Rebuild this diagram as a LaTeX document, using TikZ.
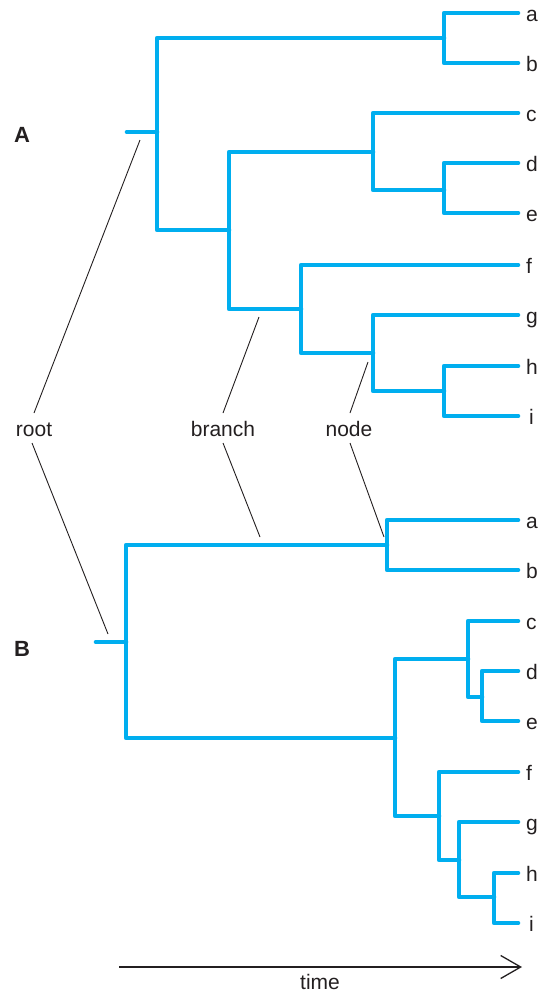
\documentclass[tikz,border=0pt]{standalone}
\usepackage{fontspec}
\setmainfont{Liberation Sans}
\usetikzlibrary{arrows.meta}
\definecolor{treeblue}{HTML}{00AEEF}
\definecolor{ink}{HTML}{231F20}
\tikzset{
  tree/.style={draw=treeblue, line width=4.6pt, line cap=round, line join=round},
  leader/.style={draw=ink, line width=0.9pt},
  leaf/.style={anchor=base west, inner sep=0pt, text=ink, font=\fontsize{21}{21}\selectfont},
  term/.style={anchor=base, inner sep=0pt, text=ink, font=\fontsize{21}{21}\selectfont},
  panel/.style={anchor=base, inner sep=0pt, text=ink, font=\fontsize{22}{22}\selectfont\bfseries}
}
\begin{document}
\begin{tikzpicture}[x=1pt,y=-1pt]
\useasboundingbox (0,0) rectangle (555,993);
% ---------- Tree A ----------
\draw[tree] (127,132) -- (157,132);
\draw[tree] (444,38) -- (157,38) -- (157,230) -- (229,230);
\draw[tree] (518,13) -- (444,13) -- (444,63) -- (518,63);
\draw[tree] (373,152) -- (229,152) -- (229,309) -- (301,309);
\draw[tree] (518,113) -- (373,113) -- (373,190) -- (444,190);
\draw[tree] (518,163) -- (444,163) -- (444,213) -- (518,213);
\draw[tree] (518,265) -- (301,265) -- (301,353) -- (373,353);
\draw[tree] (518,315) -- (373,315) -- (373,391) -- (444,391);
\draw[tree] (518,366) -- (444,366) -- (444,416) -- (518,416);
\node[leaf] (Aa) at (526,21) {a};
\node[leaf] (Ab) at (526,71) {b};
\node[leaf] (Ac) at (526,121) {c};
\node[leaf] (Ad) at (526,171) {d};
\node[leaf] (Ae) at (526,221) {e};
\node[leaf] (Af) at (526,273) {f};
\node[leaf] (Ag) at (526,323) {g};
\node[leaf] (Ah) at (526,374) {h};
\node[leaf] (Ai) at (529,424) {i};
\node[panel] (A) at (22,142) {A};
% ---------- Tree B ----------
\draw[tree] (96,642) -- (126,642);
\draw[tree] (387,545) -- (126,545) -- (126,738) -- (395,738);
\draw[tree] (518,520) -- (387,520) -- (387,570) -- (518,570);
\draw[tree] (468,659) -- (395,659) -- (395,816) -- (439,816);
\draw[tree] (518,621) -- (468,621) -- (468,697) -- (482,697);
\draw[tree] (518,671) -- (482,671) -- (482,721) -- (518,721);
\draw[tree] (518,772) -- (439,772) -- (439,860) -- (459,860);
\draw[tree] (518,822) -- (459,822) -- (459,897) -- (494,897);
\draw[tree] (518,873) -- (494,873) -- (494,923) -- (518,923);
\node[leaf] (Ba) at (526,528) {a};
\node[leaf] (Bb) at (526,578) {b};
\node[leaf] (Bc) at (526,629) {c};
\node[leaf] (Bd) at (526,679) {d};
\node[leaf] (Be) at (526,729) {e};
\node[leaf] (Bf) at (526,780) {f};
\node[leaf] (Bg) at (526,830) {g};
\node[leaf] (Bh) at (526,881) {h};
\node[leaf] (Bi) at (529,931) {i};
\node[panel] (B) at (22,656) {B};
% ---------- Terms ----------
\node[term] (root) at (34,436) {root};
\node[term] (branch) at (223,436) {branch};
\node[term] (nodeterm) at (349,436) {node};
\coordinate (rootA) at (140,140);
\coordinate (rootB) at (108,634);
\coordinate (branchA) at (259,317);
\coordinate (branchB) at (260,537);
\coordinate (nodeA) at (368,362);
\coordinate (nodeB) at (384,537);
\draw[leader] (rootA) -- (34,413);
\draw[leader] (32,443) -- (rootB);
\draw[leader] (branchA) -- (223,413);
\draw[leader] (223,443) -- (branchB);
\draw[leader] (nodeA) -- (350,413);
\draw[leader] (350,443) -- (nodeB);
% ---------- Time axis ----------
\coordinate (t0) at (119,967);
\coordinate (t1) at (522,967);
\draw[draw=ink, line width=1.3pt, -{Straight Barb[length=20pt,width=23pt,line width=1.3pt]}] (t0) -- (t1);
\node[anchor=base, inner sep=0pt, text=ink, font=\fontsize{21}{21}\selectfont] (time) at (320,989) {time};
\end{tikzpicture}
\end{document}
